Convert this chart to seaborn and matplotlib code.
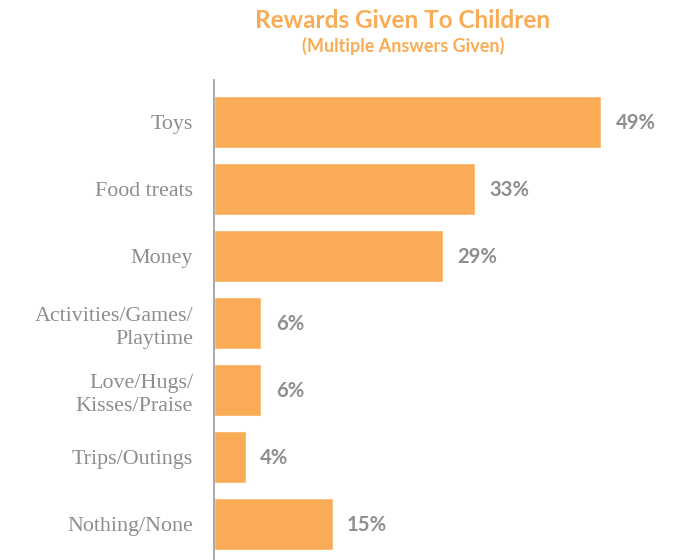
import matplotlib
matplotlib.use("Agg")
import matplotlib.pyplot as plt
import seaborn as sns
import pandas as pd

categories = ["Toys", "Food treats", "Money", "Activities/Games/\nPlaytime",
              "Love/Hugs/\nKisses/Praise", "Trips/Outings", "Nothing/None"]
values = [49, 33, 29, 6, 6, 4, 15]
value_labels = ["49%", "33%", "29%", "6%", "6%", "4%", "15%"]

df = pd.DataFrame({"reward": categories, "pct": values})

ORANGE = "#F9AC55"
GREY = "#8E8E8E"

sns.set_theme(style="white")
fig = plt.figure(figsize=(6.79, 5.6), dpi=100)
ax = fig.add_axes([214 / 679, 0.0, 465 / 679, 480 / 560])

sns.barplot(data=df, y="reward", x="pct", orient="h", color=ORANGE,
            width=0.77, saturation=1, ax=ax, order=categories)

ax.set_xlim(0, 465 / 7.9)
ax.set_ylim(6.537, -0.627)
ax.set_xlabel("")
ax.set_ylabel("")
ax.set_xticks([])
for side in ("top", "right", "bottom"):
    ax.spines[side].set_visible(False)
ax.spines["left"].set_color("#9A9A9A")
ax.spines["left"].set_linewidth(1.2)

ax.tick_params(axis="y", length=0, pad=15)
for lab in ax.get_yticklabels():
    lab.set_fontfamily("Liberation Serif")
    lab.set_fontsize(15.8)
    lab.set_color(GREY)
    lab.set_linespacing(1.35)

for i, (v, t) in enumerate(zip(values, value_labels)):
    ax.annotate(t, xy=(v, i), xytext=(10.5, -1), textcoords="offset points",
                ha="left", va="center", fontsize=14.6, fontweight="bold",
                color=GREY, family="Lato")

fig.text(403 / 679, 1 - 20 / 560, "Rewards Given To Children", ha="center",
         va="center", fontsize=17.5, fontweight="bold", color=ORANGE, family="Lato")
fig.text(403 / 679, 1 - 46 / 560, "(Multiple Answers Given)", ha="center",
         va="center", fontsize=13, fontweight="bold", color=ORANGE, family="Lato")

fig.savefig("out.png", dpi=100, facecolor="white")
